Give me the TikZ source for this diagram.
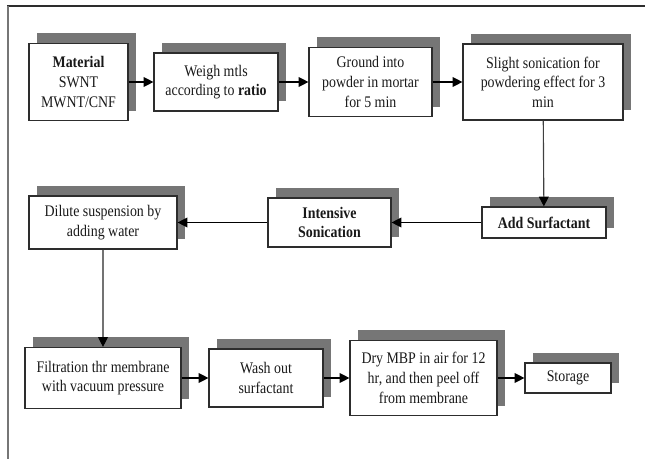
\documentclass[tikz,border=0pt]{standalone}
\usepackage{fontspec}
\setmainfont{Liberation Serif}[FakeStretch=0.86]
\usepackage{xcolor}
\usepackage{tikz}
\usetikzlibrary{positioning,shadows,arrows.meta}
\definecolor{boxGray}{RGB}{118,118,118}
\definecolor{lineDark}{RGB}{45,45,45}

\begin{document}
\begin{tikzpicture}[x=0.025cm, y=-0.025cm,
                % box styles
                stepbox/.style={rectangle, draw=lineDark, line width=0.8pt, fill=white, text=black!90,
                    align=center, inner sep=2pt, font=\fontsize{11.5}{14}\selectfont,
                    drop shadow={shadow xshift=0.21cm, shadow yshift=0.25cm, fill=boxGray, opacity=1}},
                % connector styles
                flow/.style={draw=black, line width=0.8pt, -{Triangle[length=7pt,width=7pt,color=black]}},
                grayflow/.style={flow, draw=black!55}
            ]
                \useasboundingbox (0,0) rectangle (645,459);

                % --- FRAME ---
                \draw[lineDark, line width=0.8pt] (7,6) -- (645,6);
                \draw[boxGray, line width=1pt] (8,6) -- (8,459);

                % --- ROW 1 ---
                \node[stepbox, minimum width=2.475cm, minimum height=1.925cm] (mat) at (78.5,82) {\textbf{Material}\\SWNT\\MWNT/CNF};
                \node[stepbox, minimum width=3.1cm, minimum height=1.45cm] (weigh) at (216,82) {Weigh mtls\\according to \textbf{ratio}};
                \node[stepbox, minimum width=3.075cm, minimum height=1.725cm] (ground) at (370.5,82) {Ground into\\powder in mortar\\for 5 min};
                \node[stepbox, minimum width=4.0cm, minimum height=1.9cm] (slight) at (543,82) {Slight sonication for\\powdering effect for 3\\min};

                % --- ROW 2 ---
                \node[stepbox, minimum width=3.1cm, minimum height=0.775cm] (surf) at (544,222.5) {\textbf{Add Surfactant}};
                \node[stepbox, minimum width=3.075cm, minimum height=1.225cm] (sonic) at (329.5,222.5) {\textbf{Intensive}\\\textbf{Sonication}};
                \node[stepbox, minimum width=3.7cm, minimum height=1.325cm] (dilute) at (103,222.5) {Dilute suspension by\\adding water};

                % --- ROW 3 ---
                \node[stepbox, minimum width=3.9cm, minimum height=1.525cm] (filt) at (103,378) {Filtration thr membrane\\with vacuum pressure};
                \node[stepbox, minimum width=2.85cm, minimum height=1.45cm] (wash) at (266,378) {Wash out\\surfactant};
                \node[stepbox, minimum width=3.675cm, minimum height=1.875cm] (dry) at (423.5,378) {Dry MBP in air for 12\\hr, and then peel off\\from membrane};
                \node[stepbox, minimum width=2.15cm, minimum height=0.75cm] (store) at (568,378) {Storage};

                % --- CONNECTORS ---
                \draw[flow] (mat) -- (weigh);
                \draw[flow] (weigh) -- (ground);
                \draw[flow] (ground) -- (slight);
                \draw[flow, draw=black!75] (slight) -- (surf);
                \draw[flow] (surf) -- (sonic);
                \draw[flow] (sonic) -- (dilute);
                \draw[grayflow] (dilute) -- (filt);
                \draw[flow] (filt) -- (wash);
                \draw[flow] (wash) -- (dry);
                \draw[flow] (dry) -- (store);

            \end{tikzpicture}
\end{document}
